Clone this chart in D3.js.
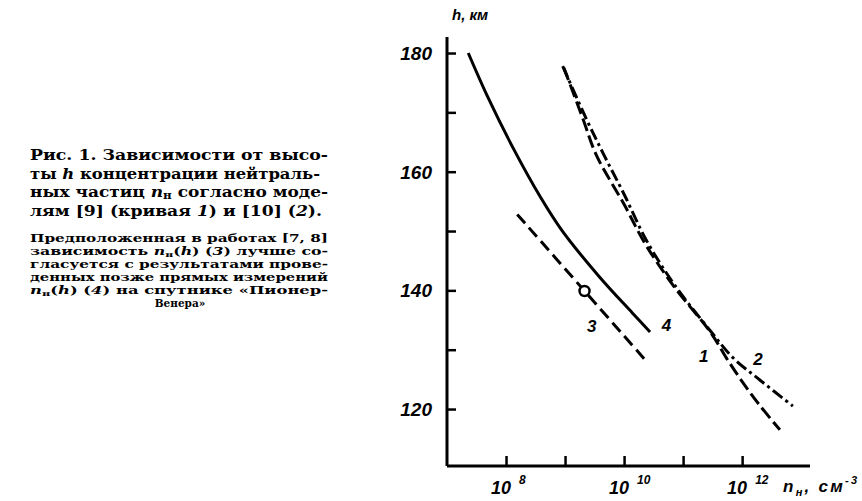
<!DOCTYPE html>
<html>
<head>
<meta charset="UTF-8" />
<script src="https://d3js.org/d3.v7.min.js"></script>
<style>
  body { margin: 0; background: #fff; }
  svg { display: block; }
</style>
</head>
<body>
<div id="chart"></div>
<script>
// curves: [log10 n, h km]
var curve1 = [[8.98, 177.5], [9.30, 169.0], [9.53, 162.8], [10.0, 154.5], [10.36, 147.8],
  [10.85, 140.6], [11.46, 133.0], [11.74, 128.5], [12.01, 124.5], [12.30, 120.6], [12.64, 116.5]];
var curve2 = [[8.96, 177.8], [9.36, 168.9], [9.66, 162.8], [10.0, 156.2], [10.38, 148.4],
  [10.85, 141.0], [11.46, 133.2], [11.85, 128.6], [12.30, 124.9], [12.86, 120.5]];
var curve3 = [[8.19, 152.8], [9.33, 139.9], [10.40, 127.8]];
var curve4 = [[7.36, 180.0], [7.69, 172.6], [8.13, 163.8], [8.59, 155.6], [8.94, 150.2],
  [9.58, 142.3], [10.14, 136.2], [10.44, 133.0]];
var point3 = [9.33, 139.9];

var yTicks = [120, 130, 140, 150, 160, 170, 180];
var yLabels = [120, 140, 160, 180];
var xTicks = [8, 9, 10, 11, 12];
var xLabels = [8, 10, 12];

var curveLabels = [
  { t: "1", L: 11.35, h: 128.0 },
  { t: "2", L: 12.27, h: 127.5 },
  { t: "3", L: 9.45, h: 133.0 },
  { t: "4", L: 10.72, h: 133.2 }
];

var captionBig = [
  ["Рис. 1. Зависимости от высо-"],
  ["ты ", ["h", "i"], " концентрации нейтраль-"],
  ["ных частиц ", ["n", "i"], ["н", "sub"], " согласно моде-"],
  ["лям [9] (кривая ", ["1", "i"], ") и [10] (", ["2", "i"], ")."]
];
var captionSmall = [
  ["Предположенная в работах [7, 8]"],
  ["зависимость ", ["n", "i"], ["н", "sub"], "(", ["h", "i"], ") (", ["3", "i"], ") лучше со-"],
  ["гласуется с результатами прове-"],
  ["денных позже прямых измерений"],
  [["n", "i"], ["н", "sub"], "(", ["h", "i"], ") (", ["4", "i"], ") на спутнике «Пионер-"],
  ["Венера»"]
];

var W = 862, H = 501;
var svg = d3.select("#chart").append("svg")
  .attr("width", W).attr("height", H)
  .style("font-family", "'DejaVu Serif', serif");

var x = d3.scaleLinear().domain([7, 13.15]).range([447, 810]);
var y = d3.scaleLinear().domain([110.4, 182.7]).range([466, 37]);

// axes, ticks pointing inward
var yAxis = d3.axisLeft(y).tickValues(yTicks).tickSize(-9).tickFormat("");
var gy = svg.append("g").attr("transform", "translate(447,0)").call(yAxis);
gy.select(".domain").attr("d", "M0," + y(182.7) + "V" + y(110.4))
  .attr("stroke-width", 3);
gy.selectAll(".tick line").attr("stroke-width", 2.5);

var xAxis = d3.axisBottom(x).tickValues(xTicks).tickSize(-10).tickFormat("");
var gx = svg.append("g").attr("transform", "translate(0,466)").call(xAxis);
gx.select(".domain").attr("d", "M" + x(7) + ",0H" + x(13.15)).attr("stroke-width", 3);
gx.selectAll(".tick line").attr("stroke-width", 2.5);

var numFont = "'Liberation Sans', sans-serif";
function numStyle(sel, size) {
  return sel.style("font-family", numFont).style("font-style", "italic")
    .style("font-weight", "bold").style("font-size", size + "px");
}

numStyle(svg.append("g").selectAll("text").data(yLabels).join("text")
  .attr("x", 432).attr("y", function(d) { return y(d) + 7; })
  .attr("text-anchor", "end"), 19)
  .text(function(d) { return d; });

var xl = numStyle(svg.append("g").selectAll("text").data(xLabels).join("text")
  .attr("x", function(d) { return x(d) - 15; }).attr("y", 494), 18);
xl.append("tspan").text("10");
xl.append("tspan").attr("dx", 8).attr("dy", -10).style("font-size", "12px")
  .text(function(d) { return d; });

// axis titles
var ht = numStyle(svg.append("text").attr("x", 452).attr("y", 20), 15);
ht.append("tspan").text("h");
ht.append("tspan").text(", км");

var nt = numStyle(svg.append("text").attr("x", 783).attr("y", 492), 17)
  .attr("textLength", 74);
nt.append("tspan").text("n");
nt.append("tspan").attr("dy", 4).style("font-size", "11px").text("н");
nt.append("tspan").attr("dy", -4).text(", см");
nt.append("tspan").attr("dy", -8).style("font-size", "11px").text("-3");

// curves
var line = d3.line()
  .x(function(d) { return x(d[0]); })
  .y(function(d) { return y(d[1]); })
  .curve(d3.curveCatmullRom);

var styles = [
  { data: curve4, dash: null },
  { data: curve3, dash: "12,6" },
  { data: curve1, dash: "13,5" },
  { data: curve2, dash: "12,4,3,4" }
];
svg.append("g").selectAll("path").data(styles).join("path")
  .attr("d", function(d) { return line(d.data); })
  .attr("fill", "none").attr("stroke", "#000").attr("stroke-width", 3)
  .attr("stroke-dasharray", function(d) { return d.dash; });

svg.append("circle")
  .attr("cx", x(point3[0])).attr("cy", y(point3[1])).attr("r", 5)
  .attr("fill", "#fff").attr("stroke", "#000").attr("stroke-width", 2.5);

numStyle(svg.append("g").selectAll("text").data(curveLabels).join("text")
  .attr("x", function(d) { return x(d.L); }).attr("y", function(d) { return y(d.h); })
  .attr("text-anchor", "middle"), 17)
  .text(function(d) { return d.t; });

// caption
function writeLines(lines, y0, dy, size, widths) {
  lines.forEach(function(parts, i) {
    var t = svg.append("text").attr("y", y0 + i * dy)
      .style("font-weight", "bold").style("font-size", size + "px");
    if (widths[i]) {
      t.attr("x", 30).attr("textLength", widths[i]).attr("lengthAdjust", "spacingAndGlyphs");
    } else {
      t.attr("x", 180).attr("text-anchor", "middle");
    }
    var back = 0;
    parts.forEach(function(p) {
      var txt = typeof p === "string" ? p : p[0];
      var s = t.append("tspan").text(txt);
      if (back) { s.attr("dy", -back); back = 0; }
      if (p[1] === "i") s.style("font-style", "italic");
      if (p[1] === "sub") { s.attr("dy", 2).style("font-size", (size * 0.7) + "px"); back = 2; }
    });
  });
}
writeLines(captionBig, 160, 18.5, 15, [298, 290, 298, 292]);
writeLines(captionSmall, 242, 13, 10.5, [298, 298, 298, 298, 298, null]);
</script>
</body>
</html>
